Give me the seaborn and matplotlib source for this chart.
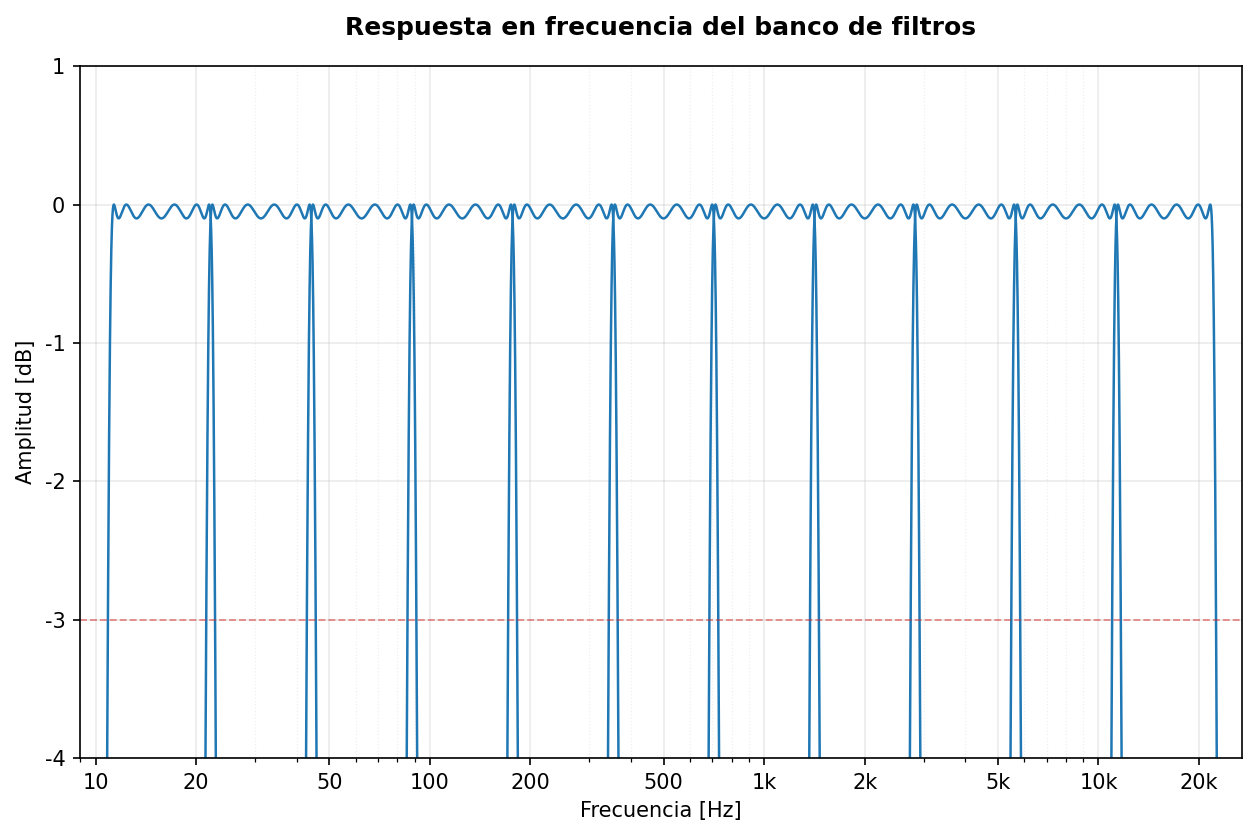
import numpy as np
import pandas as pd
import matplotlib
matplotlib.use('Agg')
import matplotlib.pyplot as plt
import matplotlib.ticker as mticker
import seaborn as sns

# Bordes de las bandas de octava (Hz)
bordes = [11.22, 22.10, 44.19, 88.39, 176.8, 353.6, 707.1, 1414.2, 2828.4, 5656.9, 11313.7, 21830.0]
# Parámetros del filtro Chebyshev tipo I de cada banda
orden = 6
rizado_db = 0.1

# Ticks del eje x
ticks_x = [10, 20, 50, 100, 200, 500, 1000, 2000, 5000, 10000, 20000]
etiquetas_x = ['10', '20', '50', '100', '200', '500', '1k', '2k', '5k', '10k', '20k']
ticks_y = [1, 0, -1, -2, -3, -4]
nivel_corte = -3


def respuesta_cheby(f, f_lo, f_hi):
    f0 = np.sqrt(f_lo * f_hi)
    B = f_hi - f_lo
    w = (f ** 2 - f0 ** 2) / (f * B)
    a = np.abs(w)
    T = np.where(a <= 1, np.cos(orden * np.arccos(np.minimum(a, 1))),
                 np.cosh(orden * np.arccosh(np.maximum(a, 1))))
    eps2 = 10 ** (rizado_db / 10) - 1
    return -10 * np.log10(1 + eps2 * T ** 2)


sns.set_theme(style='ticks', rc={
    'xtick.major.size': 3.5, 'ytick.major.size': 3.5,
    'xtick.minor.size': 2, 'ytick.minor.size': 2,
    'xtick.major.width': 0.8, 'ytick.major.width': 0.8,
    'xtick.minor.width': 0.6,
    'text.color': 'black', 'axes.labelcolor': 'black',
    'xtick.color': 'black', 'ytick.color': 'black',
    'axes.edgecolor': 'black',
})
plt.rcParams['font.family'] = ['DejaVu Sans']
plt.rcParams['axes.unicode_minus'] = False

fig, ax = plt.subplots(figsize=(1257 / 150, 838 / 150), dpi=150)
fig.subplots_adjust(left=0.0636, right=0.988, top=0.921, bottom=0.0955)

# Dibujar cada banda
for i in range(len(bordes) - 1):
    lo, hi = bordes[i], bordes[i + 1]
    f = np.geomspace(lo / 1.12, hi * 1.12, 6000)
    df = pd.DataFrame({'f': f, 'dB': respuesta_cheby(f, lo, hi)})
    sns.lineplot(data=df, x='f', y='dB', ax=ax, color='#1f77b4', linewidth=1.2,
                 estimator=None, sort=False)

ax.axhline(nivel_corte, color='#d62728', linestyle='--', linewidth=0.9, alpha=0.5)

ax.set_xscale('log')
ax.set_xlim(8.98, 26865)
ax.set_ylim(-4, 1)
ax.set_xticks(ticks_x)
ax.set_xticklabels(etiquetas_x)
ax.xaxis.set_minor_locator(mticker.LogLocator(base=10, subs=np.arange(2, 10)))
ax.xaxis.set_minor_formatter(mticker.NullFormatter())
ax.set_yticks(ticks_y)
ax.set_yticklabels([str(t) for t in ticks_y])

ax.grid(True, which='major', color='#b0b0b0', alpha=0.25, linewidth=0.8)
ax.grid(True, which='minor', axis='x', color='#b0b0b0', alpha=0.2, linestyle=':', linewidth=0.6)
for s in ax.spines.values():
    s.set_color('black')
    s.set_linewidth(0.8)
ax.tick_params(colors='black', labelsize=10)

ax.set_title('Respuesta en frecuencia del banco de filtros', fontsize=12, fontweight='bold',
             pad=15, color='black')
ax.set_xlabel('Frecuencia [Hz]', fontsize=10, color='black')
ax.set_ylabel('Amplitud [dB]', fontsize=10, color='black')

fig.savefig('out.png', dpi=150)
